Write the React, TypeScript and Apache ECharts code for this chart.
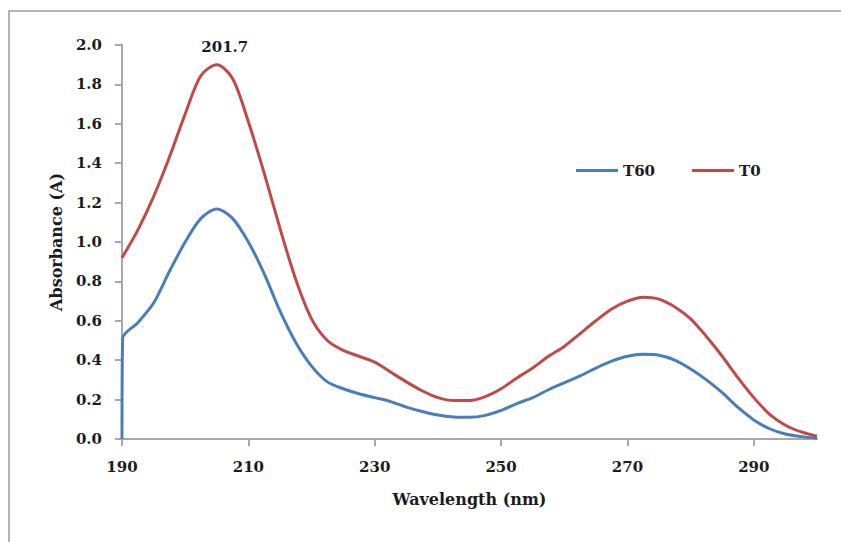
import React, { useEffect, useRef } from "react";
import * as echarts from "echarts";

// Tick labels on the wavelength axis
const WAVELENGTH_TICKS = [190, 210, 230, 250, 270, 290];

// T60 spectrum (blue)
const T60_NM = [190, 190.1, 192.5, 195, 197.5, 200, 202.5, 205, 207.5, 210, 212.5, 215, 217.5, 220, 222.5, 225, 227.5, 230, 232.5, 235, 237.5, 240, 242.5, 245, 247.5, 250, 252.5, 255, 257.5, 260, 262.5, 265, 267.5, 270, 272.5, 275, 277.5, 280, 282.5, 285, 287.5, 290, 292.5, 295, 297.5, 300];
const T60_ABS = [0, 0.51, 0.59, 0.69, 0.85, 1.0, 1.12, 1.168, 1.12, 1.0, 0.84, 0.65, 0.49, 0.37, 0.29, 0.255, 0.23, 0.21, 0.19, 0.162, 0.14, 0.122, 0.112, 0.11, 0.12, 0.145, 0.18, 0.21, 0.25, 0.285, 0.32, 0.36, 0.395, 0.42, 0.43, 0.425, 0.4, 0.355, 0.3, 0.235, 0.16, 0.097, 0.052, 0.025, 0.012, 0.004];

// T0 spectrum (red)
const T0_NM = [190, 192.5, 195, 197.5, 200, 202.5, 205, 207.5, 210, 212.5, 215, 217.5, 220, 222.5, 225, 227.5, 230, 232.5, 235, 237.5, 240, 242.5, 245, 247.5, 250, 252.5, 255, 257.5, 260, 262.5, 265, 267.5, 270, 272.5, 275, 277.5, 280, 282.5, 285, 287.5, 290, 292.5, 295, 297.5, 300];
const T0_ABS = [0.92, 1.06, 1.23, 1.43, 1.65, 1.845, 1.9, 1.83, 1.61, 1.35, 1.07, 0.81, 0.61, 0.5, 0.45, 0.42, 0.39, 0.34, 0.29, 0.245, 0.21, 0.195, 0.195, 0.215, 0.255, 0.31, 0.36, 0.42, 0.47, 0.535, 0.6, 0.66, 0.7, 0.72, 0.71, 0.67, 0.61, 0.52, 0.42, 0.31, 0.21, 0.125, 0.07, 0.036, 0.014];

const PEAK_NM = 205;
const PEAK_ABS = 1.9;
const PEAK_LABEL = "201.7";

const SERIES_NAMES = ["T60", "T0"];

const FONT = "DejaVu Serif";
const TEXT_COLOR = "#1c1c1c";
const AXIS_COLOR = "#A8A8A8";

export default function App() {
  const ref = useRef<HTMLDivElement>(null);

  useEffect(() => {
    if (!ref.current) return;
    const chart = echarts.init(ref.current, undefined, { renderer: "svg" });
    const t60 = T60_NM.map((x, i) => [x, T60_ABS[i]]);
    const t0 = T0_NM.map((x, i) => [x, T0_ABS[i]]);

    chart.setOption({
      animation: false,
      backgroundColor: "#ffffff",
      textStyle: { fontFamily: FONT },
      graphic: [
        {
          type: "rect",
          z: -10,
          shape: { x: 9, y: 11, width: 900, height: 600 },
          style: { fill: "none", stroke: "#B4B4B4", lineWidth: 2 },
        },
      ],
      grid: { left: 122, right: 24, top: 45, bottom: 103 },
      legend: {
        data: SERIES_NAMES,
        left: 571,
        top: 158,
        icon: "rect",
        itemWidth: 42,
        itemHeight: 3,
        itemGap: 37,
        textStyle: { fontFamily: FONT, fontWeight: "bold", fontSize: 15, color: TEXT_COLOR },
      },
      xAxis: {
        type: "value",
        min: 190,
        max: 300,
        name: "Wavelength (nm)",
        nameLocation: "middle",
        nameGap: 52,
        nameTextStyle: { fontFamily: FONT, fontWeight: "bold", fontSize: 16, color: TEXT_COLOR },
        axisLine: { show: true, lineStyle: { color: AXIS_COLOR, width: 2 } },
        axisTick: { show: true, length: 7, customValues: WAVELENGTH_TICKS, lineStyle: { color: AXIS_COLOR, width: 2 } },
        axisLabel: {
          customValues: WAVELENGTH_TICKS,
          margin: 20,
          fontFamily: FONT,
          fontWeight: "bold",
          fontSize: 15,
          color: TEXT_COLOR,
        },
        splitLine: { show: false },
      },
      yAxis: {
        type: "value",
        min: 0,
        max: 2,
        interval: 0.2,
        name: "Absorbance (A)",
        nameLocation: "middle",
        nameGap: 58,
        nameTextStyle: { fontFamily: FONT, fontWeight: "bold", fontSize: 16, color: TEXT_COLOR },
        axisLine: { show: true, lineStyle: { color: AXIS_COLOR, width: 2 } },
        axisTick: { show: true, length: 7, lineStyle: { color: AXIS_COLOR, width: 2 } },
        axisLabel: {
          margin: 20,
          fontFamily: FONT,
          fontWeight: "bold",
          fontSize: 15,
          color: TEXT_COLOR,
          formatter: (v: number) => v.toFixed(1),
        },
        splitLine: { show: false },
      },
      series: [
        {
          name: SERIES_NAMES[0],
          type: "line",
          data: t60,
          smooth: 0.3,
          showSymbol: false,
          color: "#4A7EBB",
          lineStyle: { width: 3, color: "#4A7EBB" },
        },
        {
          name: SERIES_NAMES[1],
          type: "line",
          data: t0,
          smooth: 0.3,
          showSymbol: false,
          color: "#BE4B48",
          lineStyle: { width: 3, color: "#BE4B48" },
          markPoint: {
            symbol: "circle",
            symbolSize: 0,
            data: [
              {
                coord: [PEAK_NM, PEAK_ABS],
                label: {
                  show: true,
                  formatter: PEAK_LABEL,
                  position: "top",
                  distance: 10,
                  offset: [8, 0],
                  fontFamily: FONT,
                  fontWeight: "bold",
                  fontSize: 15,
                  color: TEXT_COLOR,
                },
              },
            ],
          },
        },
      ],
    });

    return () => chart.dispose();
  }, []);

  return (
    <div
      ref={ref}
      style={{ position: "absolute", left: 0, top: 0, width: 841, height: 542 }}
    />
  );
}
